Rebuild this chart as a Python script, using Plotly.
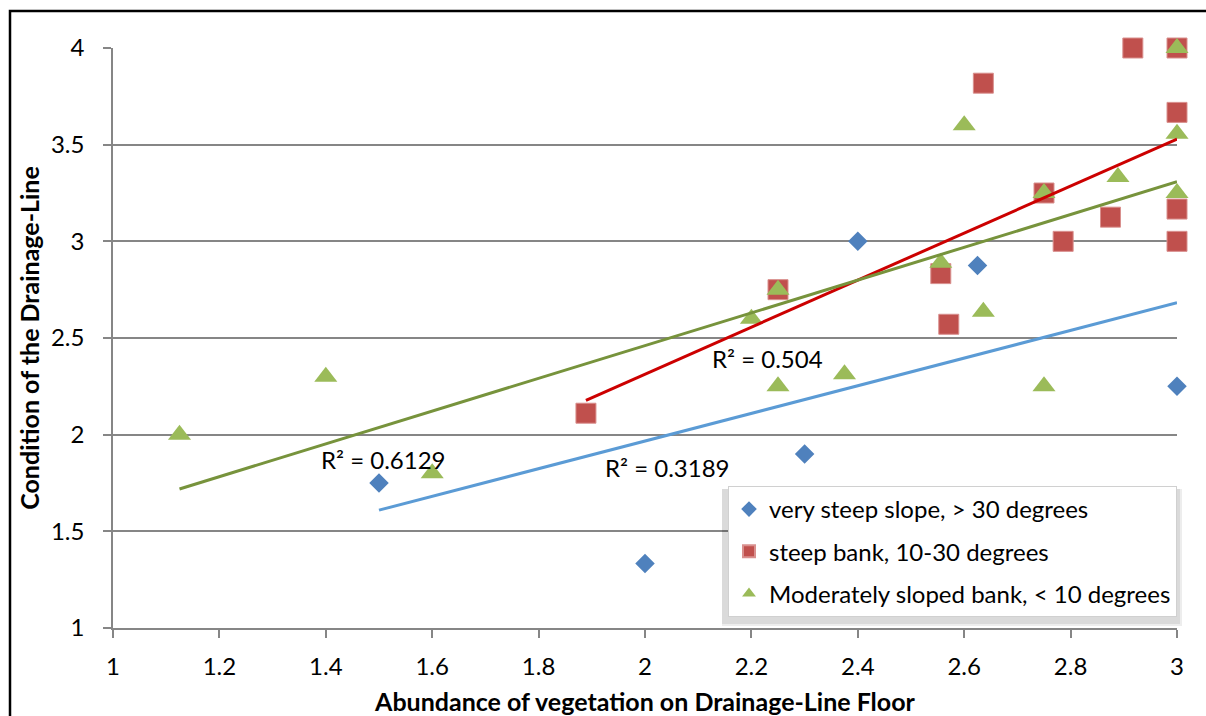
import numpy as np
import plotly.graph_objects as go

# Abundance of vegetation (x) vs. condition of the drainage line (y), by bank slope class
abundance_very_steep = [1.5, 2.0, 2.3, 2.4, 2.625, 3.0]
condition_very_steep = [1.75, 1.333, 1.9, 3.0, 2.875, 2.25]

abundance_steep = [1.889, 2.25, 2.556, 2.571, 2.636, 2.75, 2.786, 2.875, 2.917, 3.0, 3.0, 3.0, 3.0]
condition_steep = [2.111, 2.75, 2.833, 2.571, 3.818, 3.25, 3.0, 3.125, 4.0, 4.0, 3.667, 3.167, 3.0]

abundance_moderate = [1.125, 1.4, 1.6, 2.2, 2.25, 2.25, 2.375, 2.556, 2.6, 2.636, 2.75, 2.75,
                      2.889, 3.0, 3.0, 3.0]
condition_moderate = [2.0, 2.3, 1.8, 2.6, 2.75, 2.25, 2.3125, 2.889, 3.6, 2.636, 3.25, 2.25,
                      3.333, 4.0, 3.556, 3.25]

series_names = ["very steep slope, > 30 degrees",
                "steep bank, 10-30 degrees",
                "Moderately sloped bank, < 10 degrees"]
r2_labels = ["R² = 0.3189", "R² = 0.504", "R² = 0.6129"]
r2_label_pos = [(2.043, 1.83), (2.23, 2.395), (1.508, 1.87)]

x_ticks = [1, 1.2, 1.4, 1.6, 1.8, 2, 2.2, 2.4, 2.6, 2.8, 3]
y_ticks = [1, 1.5, 2, 2.5, 3, 3.5, 4]

FONT = "Lato, Carlito, 'Open Sans', sans-serif"
TXT = 24
W, H = 1206, 716
ML, MR, MT, MB = 113, 29, 48, 88
PW, PH = W - ML - MR, H - MT - MB


def px_x(p):
    return (p - ML) / PW


def px_y(p):
    return (H - MB - p) / PH


series = [
    (abundance_very_steep, condition_very_steep, "#4F81BD", "diamond", 15, "#5B9BD5"),
    (abundance_steep, condition_steep, "#C0504D", "square", 20, "#CC0000"),
    (abundance_moderate, condition_moderate, "#9BBB59", "triangle-up", 20, "#77933C"),
]

fig = go.Figure()

for i, (xs, ys, color, symbol, size, _) in enumerate(series):
    line = dict(width=1, color="#D9908E") if symbol == "square" else dict(width=0)
    fig.add_trace(go.Scatter(
        x=xs, y=ys, mode="markers", name=series_names[i],
        legendgroup=f"g{i}", cliponaxis=False,
        marker=dict(symbol=symbol, size=size, color=color, line=line),
    ))

# Linear trend lines over each series' x extent
for i, (xs, ys, _, _, _, tcolor) in enumerate(series):
    slope, intercept = np.polyfit(xs, ys, 1)
    x_end = np.array([min(xs), max(xs)])
    fig.add_trace(go.Scatter(
        x=x_end, y=slope * x_end + intercept, mode="lines", cliponaxis=False,
        line=dict(color=tcolor, width=3), showlegend=False, hoverinfo="skip",
    ))

annotations = []
for label, (ax, ay) in zip(r2_labels, r2_label_pos):
    annotations.append(dict(x=ax, y=ay, xref="x", yref="y", text=label, showarrow=False,
                            font=dict(family=FONT, size=TXT, color="#000000"),
                            xanchor="center", yanchor="middle"))

shapes = [
    # legend drop shadow (soft, two layers)
    dict(type="rect", xref="paper", yref="paper", layer="above",
         x0=px_x(722), x1=px_x(1182), y0=px_y(489), y1=px_y(626),
         fillcolor="rgba(0,0,0,0.07)", line=dict(width=0)),
    dict(type="rect", xref="paper", yref="paper", layer="above",
         x0=px_x(722), x1=px_x(1180), y0=px_y(489), y1=px_y(624),
         fillcolor="rgba(0,0,0,0.08)", line=dict(width=0)),
    # chart outer border
    dict(type="rect", xref="paper", yref="paper",
         x0=px_x(10), x1=px_x(1220), y0=px_y(11), y1=px_y(730),
         line=dict(color="#000000", width=2.5), fillcolor="rgba(0,0,0,0)"),
]

fig.update_layout(
    width=W, height=H,
    margin=dict(l=ML, r=MR, t=MT, b=MB, autoexpand=False),
    paper_bgcolor="white", plot_bgcolor="white",
    font=dict(family=FONT, size=TXT, color="#000000"),
    showlegend=True,
    legend=dict(
        x=1.0, y=px_y(486), xanchor="right", yanchor="top",
        bgcolor="white", bordercolor="#D0D0D0", borderwidth=1,
        font=dict(family=FONT, size=TXT, color="#000000"),
        tracegroupgap=8, itemsizing="constant",
    ),
    annotations=annotations,
    shapes=shapes,
)

fig.update_xaxes(
    range=[1, 3], tickvals=x_ticks, ticktext=[f"{v:g}" for v in x_ticks],
    showgrid=False, zeroline=False,
    showline=True, linecolor="#868686", linewidth=1.5,
    ticks="outside", ticklen=8, tickcolor="#868686", tickwidth=1.5,
    ticklabelstandoff=8, tickfont=dict(family=FONT, size=TXT),
    title=dict(text="<b>Abundance of vegetation on Drainage-Line Floor</b>",
               font=dict(family=FONT, size=25), standoff=16),
    automargin=False,
)
fig.update_yaxes(
    range=[1, 4], tickvals=y_ticks, ticktext=[f"{v:g}" for v in y_ticks],
    showgrid=True, gridcolor="#868686", gridwidth=1.5, zeroline=False,
    showline=True, linecolor="#868686", linewidth=1.5,
    ticks="outside", ticklen=8, tickcolor="#868686", tickwidth=1.5,
    ticklabelstandoff=14, tickfont=dict(family=FONT, size=TXT),
    title=dict(text="<b>Condition of the Drainage-Line</b>",
               font=dict(family=FONT, size=25), standoff=4),
    automargin=False,
)

fig.write_html("out.html")
